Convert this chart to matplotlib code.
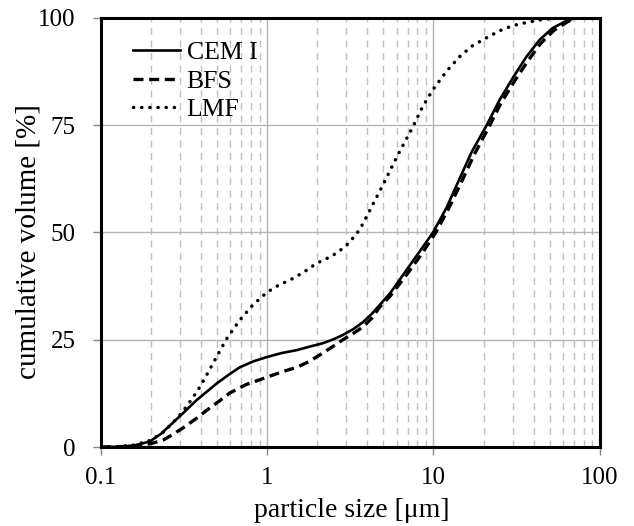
import numpy as np
import matplotlib
matplotlib.use("Agg")
import matplotlib.pyplot as plt
from matplotlib.ticker import LogLocator, NullFormatter, FixedLocator

plt.rcParams['font.family'] = ['Liberation Serif', 'DejaVu Serif']

# particle size [um] and cumulative volume [%]
cem_x = [0.1, 0.13, 0.16, 0.197, 0.23, 0.27, 0.32, 0.378, 0.44, 0.50, 0.59, 0.685, 0.83, 1.0, 1.22, 1.51, 1.8, 2.16, 2.5,
         2.85, 3.3, 3.77, 4.25, 4.75, 5.5, 6.9, 8.3, 9.9, 12.0, 14.0, 17.0, 20.9, 25.0, 30.0, 36.0, 43.5, 52.0, 63.0,
         72.0, 100.0]
cem_y = [0.0, 0.1, 0.4, 1.3, 3.1, 5.6, 8.3, 11.0, 13.1, 14.9, 16.9, 18.6, 20.0, 21.0, 21.9, 22.6, 23.4, 24.2, 25.1,
         26.1, 27.5, 29.1, 31.0, 33.1, 35.9, 41.3, 45.7, 49.9, 55.8, 61.6, 68.8, 75.0, 80.9, 86.0, 90.8, 94.9, 97.6, 99.3,
         100.0, 100.0]

bfs_x = [0.1, 0.13, 0.16, 0.20, 0.236, 0.27, 0.31, 0.37, 0.434, 0.51, 0.596, 0.75, 1.0, 1.22, 1.51, 1.8, 2.16, 2.5,
         2.85, 3.3, 3.77, 4.25, 4.75, 5.5, 7.0, 8.5, 10.3, 12.3, 14.5, 17.5, 21.5, 25.5, 31.0, 37.0, 44.0, 53.0, 64.0,
         73.0, 100.0]
bfs_y = [0.0, 0.1, 0.3, 0.8, 1.6, 2.9, 4.4, 6.5, 8.6, 10.6, 12.6, 14.6, 16.3, 17.5, 18.6, 20.0, 21.9, 23.5, 25.0,
         26.5, 28.0, 30.0, 32.6, 35.2, 40.5, 45.0, 49.9, 55.5, 61.2, 68.0, 74.5, 80.2, 85.5, 90.0, 94.0, 97.1, 99.1,
         100.0, 100.0]

lmf_x = [0.1, 0.13, 0.16, 0.20, 0.236, 0.27, 0.31, 0.35, 0.394, 0.44, 0.485, 0.57, 0.685, 0.82, 1.0, 1.17, 1.37, 1.65,
         2.0, 2.3, 2.62, 3.0, 3.44, 3.7, 4.0, 4.45, 4.96, 6.0, 7.5, 8.6, 9.9, 12.0, 14.4, 17.0, 19.8, 25.0, 30.0, 36.0,
         43.5, 55.0, 100.0]
lmf_y = [0.0, 0.1, 0.5, 1.6, 3.4, 5.6, 8.2, 11.0, 14.0, 17.3, 20.3, 25.2, 29.6, 33.1, 36.1, 37.7, 38.9, 40.7, 42.9,
         44.0, 45.2, 47.0, 49.6, 51.5, 54.0, 57.5, 61.0, 67.5, 74.5, 79.3, 83.2, 87.6, 91.0, 93.4, 94.9, 97.0, 98.2, 98.9,
         99.5, 100.0, 100.0]

fig = plt.figure(figsize=(6.34, 5.26), dpi=100)
ax = fig.add_axes([0.159, 0.150, 0.787, 0.816])

ax.plot(cem_x, cem_y, color='black', lw=1.9, ls='-', label='CEM I', zorder=4)
ax.plot(bfs_x, bfs_y, color='black', lw=2.4, ls=(0, (3.0, 1.7)), label='BFS', zorder=3)
ax.plot(lmf_x, lmf_y, color='black', lw=2.5, ls=(0, (0.05, 2.3)), dash_capstyle='round',
        solid_capstyle='round', label='LMF', zorder=3)

ax.set_xscale('log')
ax.set_xlim(0.1, 100)
ax.set_ylim(0, 100)
ax.xaxis.set_major_locator(FixedLocator([0.1, 1, 10, 100]))
ax.set_xticklabels(['0.1', '1', '10', '100'])
ax.xaxis.set_minor_locator(LogLocator(base=10, subs=np.arange(2, 10)))
ax.xaxis.set_minor_formatter(NullFormatter())
ax.set_yticks([0, 25, 50, 75, 100])

ax.grid(True, which='major', color='#b5b5b5', lw=1.0, ls='-', zorder=0)
ax.grid(True, which='minor', axis='x', color='#c0c0c0', lw=1.0, ls=(0, (5, 4)), zorder=0)
ax.set_axisbelow(True)

for s in ax.spines.values():
    s.set_linewidth(2.2)
ax.tick_params(which='major', direction='out', length=6, width=1.0, color='#888888', labelsize=18)
ax.tick_params(axis='x', which='major', pad=8)
ax.tick_params(axis='y', which='major', pad=12)
ax.tick_params(which='minor', length=0)

ax.set_xlabel('particle size [μm]', fontsize=20)
ax.set_ylabel('cumulative volume [%]', fontsize=21)
ax.xaxis.set_label_coords(0.502, -0.118)
ax.yaxis.set_label_coords(-0.118, 0.48)

ax.legend(loc='upper left', frameon=False, fontsize=18.5, handlelength=1.85,
          handletextpad=0.25, labelspacing=0.22, borderpad=0, borderaxespad=0,
          bbox_to_anchor=(0.064, 0.946))

fig.savefig('out.png', dpi=100)
